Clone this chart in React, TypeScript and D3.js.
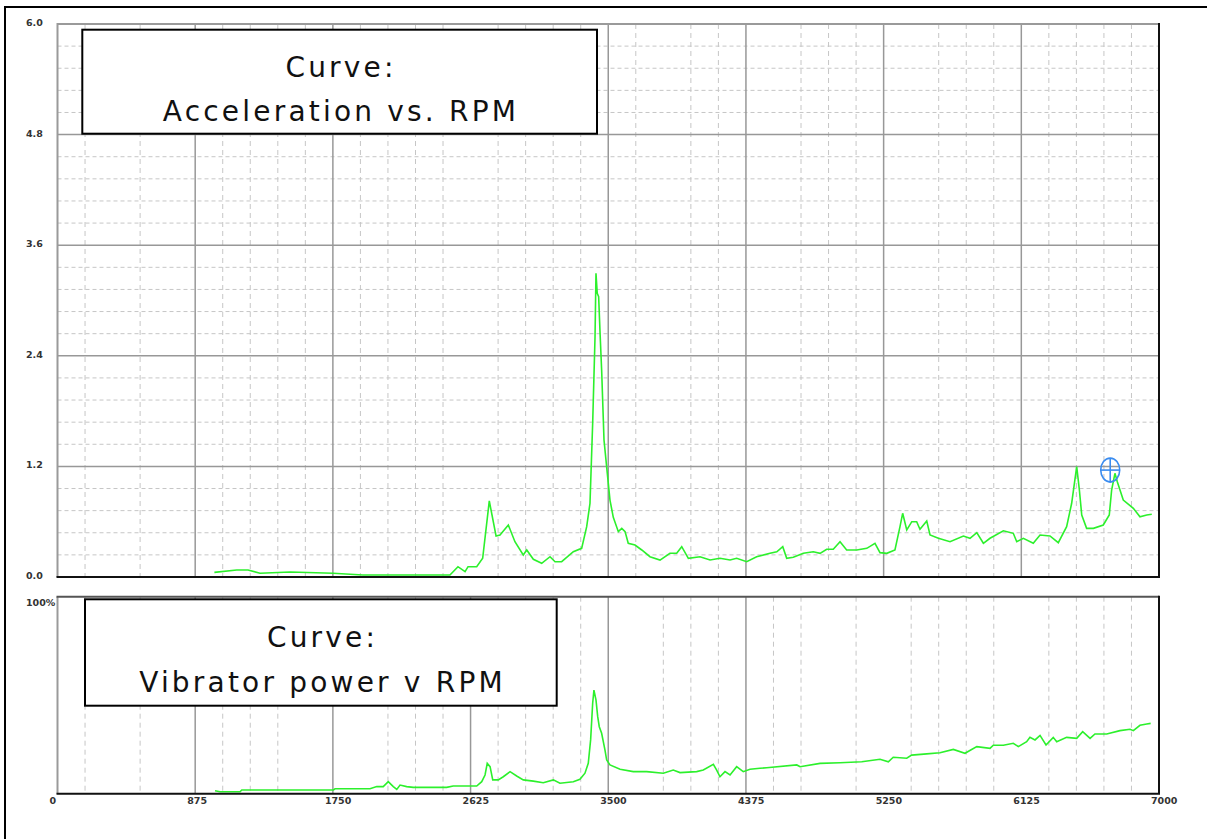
import * as d3 from 'd3';
import React from 'react';

// Acceleration (g) vs. RPM
const accelRpm = [997, 1139, 1211, 1287, 1478, 1751, 1941, 2240, 2494, 2545, 2590, 2609, 2664, 2702, 2744, 2787, 2812, 2865, 2907, 2960, 2982, 3024, 3077, 3130, 3162, 3204, 3278, 3331, 3363, 3384, 3401, 3416, 3422, 3430, 3439, 3448, 3458, 3473, 3494, 3511, 3532, 3564, 3586, 3607, 3627, 3670, 3713, 3765, 3829, 3892, 3935, 3967, 4009, 4083, 4147, 4210, 4274, 4316, 4380, 4443, 4528, 4571, 4609, 4634, 4676, 4740, 4803, 4846, 4888, 4930, 4973, 5015, 5079, 5143, 5195, 5227, 5270, 5322, 5354, 5371, 5397, 5429, 5460, 5481, 5524, 5545, 5598, 5672, 5757, 5799, 5842, 5884, 5926, 6011, 6074, 6096, 6138, 6201, 6244, 6307, 6360, 6413, 6445, 6477, 6494, 6509, 6540, 6583, 6646, 6684, 6699, 6720, 6735, 6773, 6837, 6879, 6922, 6954];
const accelG = [0.05, 0.076, 0.076, 0.04, 0.054, 0.04, 0.022, 0.022, 0.022, 0.112, 0.058, 0.112, 0.112, 0.203, 0.825, 0.445, 0.456, 0.564, 0.383, 0.239, 0.293, 0.192, 0.149, 0.22, 0.166, 0.166, 0.274, 0.311, 0.546, 0.8, 1.668, 2.607, 3.295, 3.078, 3.041, 2.644, 2.246, 1.486, 1.125, 0.835, 0.648, 0.492, 0.528, 0.492, 0.366, 0.347, 0.293, 0.22, 0.184, 0.257, 0.257, 0.329, 0.203, 0.22, 0.184, 0.203, 0.184, 0.203, 0.166, 0.22, 0.257, 0.274, 0.329, 0.203, 0.214, 0.257, 0.274, 0.257, 0.301, 0.301, 0.383, 0.293, 0.293, 0.311, 0.366, 0.264, 0.257, 0.293, 0.546, 0.691, 0.51, 0.6, 0.6, 0.518, 0.608, 0.456, 0.42, 0.383, 0.445, 0.42, 0.481, 0.366, 0.42, 0.502, 0.474, 0.383, 0.42, 0.366, 0.456, 0.445, 0.372, 0.546, 0.8, 1.197, 0.944, 0.673, 0.528, 0.528, 0.564, 0.673, 0.944, 1.125, 1.034, 0.835, 0.745, 0.654, 0.673, 0.68];

// Vibrator power (%) vs. RPM, bottom panel
const powerRpm = [1001, 1033, 1160, 1171, 1753, 1764, 1986, 2029, 2070, 2102, 2134, 2156, 2177, 2219, 2261, 2473, 2515, 2664, 2696, 2717, 2731, 2749, 2766, 2801, 2833, 2876, 2918, 2960, 3024, 3087, 3151, 3193, 3278, 3320, 3352, 3373, 3388, 3401, 3409, 3422, 3433, 3443, 3458, 3479, 3490, 3511, 3575, 3659, 3744, 3850, 3913, 3956, 4062, 4104, 4168, 4189, 4210, 4242, 4274, 4316, 4358, 4401, 4464, 4507, 4698, 4719, 4846, 4973, 5111, 5227, 5280, 5311, 5397, 5428, 5524, 5608, 5693, 5767, 5842, 5926, 5947, 6011, 6074, 6106, 6159, 6180, 6212, 6244, 6282, 6328, 6350, 6413, 6477, 6515, 6562, 6593, 6668, 6752, 6816, 6837, 6879, 6922, 6947];
const powerPct = [1.5, 1.0, 1.0, 1.9, 1.9, 2.5, 2.5, 3.6, 3.6, 6.1, 3.6, 2.2, 4.4, 3.6, 3.2, 3.2, 3.9, 3.9, 6.1, 9.5, 15.4, 13.7, 7.0, 7.0, 8.6, 11.2, 9.0, 7.0, 6.4, 5.6, 7.0, 5.3, 6.1, 7.3, 10.4, 15.4, 27.3, 45.9, 52.6, 47.6, 39.1, 34.0, 30.7, 22.2, 17.1, 14.6, 12.4, 11.2, 11.2, 10.4, 12.0, 10.7, 11.2, 12.0, 14.9, 12.0, 8.6, 11.2, 9.5, 13.7, 11.2, 12.4, 12.9, 13.2, 14.6, 13.7, 15.4, 15.7, 16.2, 17.5, 16.2, 18.5, 18.0, 19.6, 20.2, 20.8, 22.5, 20.5, 23.9, 23.0, 24.6, 24.6, 25.6, 23.9, 26.4, 28.6, 27.3, 29.6, 24.7, 28.6, 26.4, 28.6, 28.1, 31.5, 28.1, 30.3, 30.3, 32.0, 32.7, 32.0, 34.7, 35.4, 35.7];

// cursor marker on the top curve
const cursorRpm = 6690;
const cursorG = 1.16;

// axes / grid
const xTicks = [0, 875, 1750, 2625, 3500, 4375, 5250, 6125, 7000];
const accelTicks = [0, 1.2, 2.4, 3.6, 4.8, 6.0];
const accelTickLabels = ['0.0', '1.2', '2.4', '3.6', '4.8', '6.0'];
const accelMinor = [0.24, 0.48, 0.72, 0.96, 1.44, 1.68, 1.92, 2.16, 2.64, 2.88, 3.12, 3.36, 3.84, 4.08, 4.32, 4.56, 5.04, 5.28, 5.52, 5.76];
const topMajorRpm = [875, 1750, 3500, 4375, 5250, 6125];
const topMinorRpm = [175, 525, 1050, 1225, 1400, 1575, 1925, 2100, 2275, 2450, 2800, 2975, 3150, 3325, 3675, 4025, 4200, 4725, 4900, 5075, 5600, 5775, 5950, 6300, 6475, 6650, 6825];
const botMajorRpm = [875, 1750, 2625, 3500, 4375];
const botMinorRpm = [175, 525, 1050, 1225, 1400, 2100, 2275, 2450, 2800, 2975, 3150, 3325, 3850, 4025, 4200, 4550, 4725, 5075, 5425, 5600, 5775, 5950, 6300, 6475, 6650, 6825];

const W = 1207;
const H = 839;
const left = 57.5;
const right = 1159;
const topT = 24, topB = 577;
const botT = 596.7, botB = 793.7;

const minorColor = '#c6c6c6';
const majorColor = '#989898';
const green = '#2cf02c';
const labelFont = '"DejaVu Sans", Verdana, sans-serif';

export default function App() {
  const x = d3.scaleLinear().domain([0, 7000]).range([left, right]);
  const yA = d3.scaleLinear().domain([0, 6]).range([topB, topT]);
  const yP = d3.scaleLinear().domain([0, 100]).range([botB, botT]);

  const accelLine = d3.line<number>().x((d, i) => x(accelRpm[i])).y((d) => yA(d));
  const powerLine = d3.line<number>().x((d, i) => x(powerRpm[i])).y((d) => yP(d));

  const cx = x(cursorRpm);
  const cy = yA(cursorG);

  return (
    <svg width={W} height={H} style={{ position: 'absolute', left: 0, top: 0, background: '#fff' }}>
      <rect x={0} y={0} width={W} height={H} fill="#fff" />
      <path d={`M5,${H} V7 H${W}`} fill="none" stroke="#000" strokeWidth={2} />

      {/* top panel grid */}
      <g>
        {accelMinor.map((v) => (
          <line key={'hm' + v} x1={left} x2={right} y1={yA(v)} y2={yA(v)} stroke={minorColor} strokeDasharray="4,3" />
        ))}
        {topMinorRpm.map((v) => (
          <line key={'vm' + v} x1={x(v)} x2={x(v)} y1={topT} y2={topB} stroke={minorColor} strokeDasharray="5,4" />
        ))}
        {accelTicks.slice(1, -1).map((v) => (
          <line key={'hM' + v} x1={left} x2={right} y1={yA(v)} y2={yA(v)} stroke={majorColor} strokeWidth={1.5} />
        ))}
        {topMajorRpm.map((v) => (
          <line key={'vM' + v} x1={x(v)} x2={x(v)} y1={topT} y2={topB} stroke={majorColor} strokeWidth={1.5} />
        ))}
      </g>

      {/* bottom panel grid */}
      <g>
        {botMinorRpm.map((v) => (
          <line key={'bm' + v} x1={x(v)} x2={x(v)} y1={botT} y2={botB} stroke={minorColor} strokeDasharray="5,4" />
        ))}
        {botMajorRpm.map((v) => (
          <line key={'bM' + v} x1={x(v)} x2={x(v)} y1={botT} y2={botB} stroke={majorColor} strokeWidth={1.5} />
        ))}
      </g>

      <path d={accelLine(accelG) || ''} fill="none" stroke={green} strokeWidth={1.6} />
      <path d={powerLine(powerPct) || ''} fill="none" stroke={green} strokeWidth={1.6} />

      {/* panel frames: light top/left, dark bottom/right */}
      <path d={`M${left},${topB} V${topT} H${right}`} fill="none" stroke="#9a9a9a" strokeWidth={2} />
      <path d={`M${left - 1},${topB} H${right} V${topT - 1}`} fill="none" stroke="#111" strokeWidth={2} />
      <path d={`M${left},${botB} V${botT}`} fill="none" stroke="#9a9a9a" strokeWidth={2} />
      <path d={`M${left - 1},${botT} H${right}`} fill="none" stroke="#555" strokeWidth={2} />
      <path d={`M${left - 1},${botB} H${right} V${botT - 1}`} fill="none" stroke="#111" strokeWidth={2} />

      {/* legend boxes */}
      <g fontFamily={labelFont} fontSize={28} fill="#111" textAnchor="middle" letterSpacing={3.2}>
        <rect x={82.3} y={29.7} width={514.7} height={104} fill="#fff" stroke="#000" strokeWidth={2} />
        <text x={341} y={77}>Curve:</text>
        <text x={341} y={121}>Acceleration vs. RPM</text>
        <rect x={85} y={599.3} width={471.7} height={106.4} fill="#fff" stroke="#000" strokeWidth={2} />
        <text x={322.5} y={647}>Curve:</text>
        <text x={322.5} y={692}>Vibrator power v RPM</text>
      </g>

      {/* y labels */}
      <g fontFamily={labelFont} fontSize={9.5} fontWeight="bold" fill="#333">
        {accelTicks.map((v, i) => (
          <text key={'yl' + v} x={26} y={yA(v) + 2}>{accelTickLabels[i]}</text>
        ))}
        <text x={26} y={yP(100) + 9}>100%</text>
        {xTicks.map((v) => (
          <text key={'xl' + v} x={x(v) - 8} y={803.5}>{v}</text>
        ))}
      </g>

      {/* cursor */}
      <g stroke="#3a8cf0" strokeWidth={1.6} fill="none">
        <ellipse cx={cx} cy={cy} rx={9.5} ry={12} />
        <line x1={cx - 9.5} x2={cx + 9.5} y1={cy} y2={cy} />
        <line x1={cx} x2={cx} y1={cy - 12} y2={cy + 12} />
      </g>
    </svg>
  );
}
